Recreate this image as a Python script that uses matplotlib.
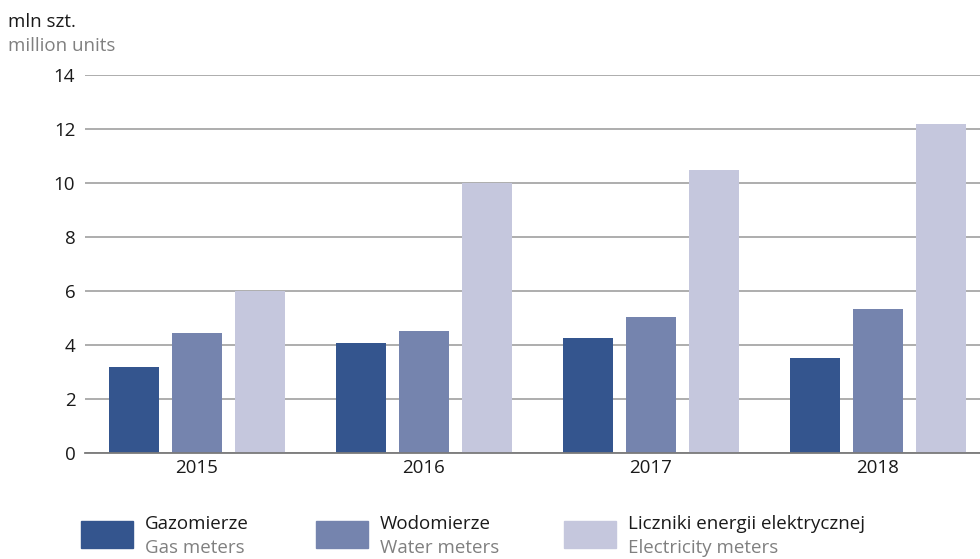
import matplotlib.pyplot as plt
import matplotlib.patches as mpatches
import numpy as np

plt.rcParams['font.family'] = ['Open Sans', 'DejaVu Sans']

lata = ['2015', '2016', '2017', '2018']
gazomierze = [3.2, 4.07, 4.26, 3.52]
wodomierze = [4.44, 4.52, 5.04, 5.33]
liczniki = [6.0, 10.0, 10.48, 12.19]

serie_pl = ['Gazomierze', 'Wodomierze', 'Liczniki energii elektrycznej']
serie_en = ['Gas meters', 'Water meters', 'Electricity meters']
kolory = ['#34558e', '#7584ae', '#c5c7dd']

W, H = 980, 559
fs = 13.5
fig = plt.figure(figsize=(W / 100, H / 100), dpi=100)
ax = fig.add_axes([85 / W, (H - 453) / H, (980 - 85) / W, (453 - 75) / H])

x = np.arange(len(lata))
szer = 0.22
krok = 0.277
for i, dane in enumerate([gazomierze, wodomierze, liczniki]):
    ax.bar(x + (i - 1) * krok, dane, width=szer, color=kolory[i], zorder=3)

ax.set_xlim(-0.493, 3.449)
ax.set_ylim(0, 14)
ax.set_yticks(range(0, 15, 2))
ax.set_xticks(x)
ax.set_xticklabels(lata)
ax.tick_params(axis='both', length=0, labelsize=fs, colors='#1a1a1a')
ax.tick_params(axis='y', pad=7)
ax.tick_params(axis='x', pad=4)
ax.grid(axis='y', color='#a0a0a0', linewidth=1.2, zorder=0)
for s in ['top', 'right', 'left']:
    ax.spines[s].set_visible(False)
ax.spines['bottom'].set_color('#7a7a7a')
ax.spines['bottom'].set_linewidth(1.3)
ax.spines['bottom'].set_zorder(4)

fig.text(8 / W, 1 - 22 / H, 'mln szt.', fontsize=fs, color='#1a1a1a', va='center')
fig.text(8 / W, 1 - 46 / H, 'million units', fontsize=fs, color='#808080', va='center')

# legenda
poz = [81, 316, 564]
for i in range(3):
    fig.patches.append(mpatches.Rectangle((poz[i] / W, 1 - 548 / H), 52 / W, 27 / H,
                                          transform=fig.transFigure, color=kolory[i]))
    fig.text((poz[i] + 64) / W, 1 - 524 / H, serie_pl[i], fontsize=fs, color='#1a1a1a', va='center')
    fig.text((poz[i] + 64) / W, 1 - 548 / H, serie_en[i], fontsize=fs, color='#808080', va='center')

fig.savefig('out.png', dpi=100)
